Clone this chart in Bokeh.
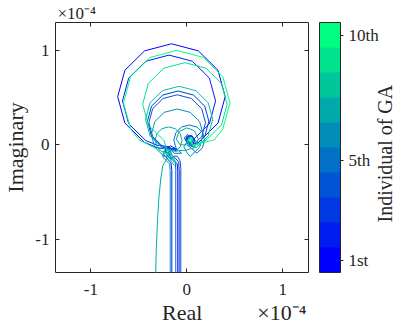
import math
from bokeh.plotting import figure
from bokeh.models import (ColorBar, LinearColorMapper, FixedTicker, LinearAxis,
                          Range1d)
from bokeh.embed import file_html
from bokeh.resources import INLINE

# Nyquist curves of the 10 GA individuals (values in units of 1e-4)
real_1 = [-0.094, -0.094, -0.10, -0.15, -0.21, -0.22, -0.17, -0.12, -0.16, -0.305, -0.44, -0.645, -0.72, -0.645, -0.44, -0.16, 0.12, 0.325, 0.40, 0.325, 0.12, 0.06, 0.08, 0.04, -0.01, 0.0, 0.03]
imag_1 = [-1.40, -0.28, -0.20, -0.15, -0.11, -0.05, -0.01, -0.04, -0.05, -0.031, 0.025, 0.23, 0.51, 0.79, 0.995, 1.07, 0.995, 0.79, 0.51, 0.23, 0.025, 0.0, 0.05, 0.10, 0.07, 0.02, 0.01]

real_2 = [-0.156, -0.156, -0.165, -0.20, -0.24, -0.22, -0.17, -0.15, -0.185, -0.311, -0.4275, -0.605, -0.67, -0.605, -0.4275, -0.185, 0.0575, 0.235, 0.30, 0.235, 0.0575, 0.02, 0.05, 0.09, 0.06, 0.01, 0.0, 0.02]
imag_2 = [-1.40, -0.27, -0.19, -0.15, -0.10, -0.04, -0.03, -0.07, -0.02, -0.003, 0.045, 0.2225, 0.465, 0.7075, 0.885, 0.95, 0.885, 0.7075, 0.465, 0.2225, 0.045, 0.02, 0.0, 0.04, 0.09, 0.08, 0.03, 0.01]

real_3 = [-0.079, -0.079, -0.085, -0.12, -0.17, -0.19, -0.15, -0.11, -0.25, -0.367, -0.41, -0.367, -0.25, -0.09, 0.07, 0.187, 0.23, 0.187, 0.07, 0.03, 0.07, 0.05, 0.0, -0.01, 0.02]
imag_3 = [-1.40, -0.26, -0.18, -0.14, -0.13, -0.08, -0.04, -0.06, -0.027, 0.09, 0.25, 0.41, 0.527, 0.57, 0.527, 0.41, 0.25, 0.09, -0.027, 0.02, 0.05, 0.10, 0.09, 0.04, 0.02]

real_4 = [-0.0625, -0.0625, -0.07, -0.10, -0.15, -0.17, -0.13, -0.10, -0.2475, -0.3555, -0.395, -0.3555, -0.2475, -0.10, 0.0475, 0.1555, 0.195, 0.1555, 0.0475, 0.01, 0.04, 0.01, -0.03, 0.0]
imag_4 = [-1.40, -0.25, -0.17, -0.12, -0.12, -0.07, -0.03, -0.05, -0.02, 0.0875, 0.235, 0.3825, 0.4905, 0.53, 0.4905, 0.3825, 0.235, 0.0875, -0.02, 0.03, 0.07, 0.11, 0.07, 0.04]

real_5 = [-0.115, -0.115, -0.12, -0.15, -0.19, -0.20, -0.16, -0.13, -0.055, -0.1136, -0.135, -0.1136, -0.055, 0.025, 0.105, 0.1636, 0.185, 0.1636, 0.105, 0.04, 0.0, 0.03, 0.07, 0.05, 0.02]
imag_5 = [-1.40, -0.26, -0.19, -0.16, -0.13, -0.08, -0.06, -0.09, -0.0886, -0.03, 0.05, 0.13, 0.1886, 0.21, 0.1886, 0.13, 0.05, -0.03, -0.0886, -0.03, 0.02, 0.07, 0.05, 0.01, 0.02]

real_6 = [-0.173, -0.173, -0.18, -0.21, -0.25, -0.24, -0.19, -0.17, -0.235, -0.334, -0.37, -0.334, -0.235, -0.10, 0.035, 0.134, 0.17, 0.134, 0.035, 0.0, -0.03, 0.0, 0.04, 0.03, 0.0]
imag_6 = [-1.40, -0.27, -0.20, -0.17, -0.13, -0.07, -0.06, -0.11, -0.124, -0.025, 0.11, 0.245, 0.344, 0.38, 0.344, 0.245, 0.11, -0.025, -0.124, -0.08, -0.02, 0.03, 0.02, -0.02, 0.0]

real_7 = [-0.325, -0.318, -0.305, -0.29, -0.27, -0.25, -0.22, -0.19, -0.26, -0.311, -0.33, -0.311, -0.26, -0.19, -0.12, -0.069, -0.05, -0.069, -0.12, -0.08, -0.02, 0.08, 0.12, 0.08, 0.0, -0.08, -0.11, -0.07, 0.0]
imag_7 = [-1.40, -1.10, -0.80, -0.55, -0.35, -0.22, -0.17, -0.09, -0.071, -0.02, 0.05, 0.12, 0.171, 0.19, 0.171, 0.12, 0.05, -0.02, -0.071, -0.06, -0.06, -0.03, 0.06, 0.15, 0.18, 0.14, 0.06, 0.0, 0.0]

real_8 = [-0.13, -0.17, -0.21, -0.18, -0.13, -0.255, -0.383, -0.43, -0.383, -0.255, -0.08, 0.095, 0.223, 0.27, 0.223, 0.095, 0.05, 0.07, 0.03, 0.0, 0.02]
imag_8 = [-0.22, -0.16, -0.10, -0.05, -0.07, -0.033, 0.095, 0.27, 0.445, 0.573, 0.62, 0.573, 0.445, 0.27, 0.095, -0.033, 0.0, 0.05, 0.08, 0.04, 0.01]

real_9 = [-0.10, -0.15, -0.20, -0.24, -0.401, -0.46, -0.401, -0.24, -0.02, 0.20, 0.361, 0.42, 0.361, 0.20, 0.08, 0.04, 0.06, 0.02, 0.02]
imag_9 = [-0.20, -0.12, -0.06, 0.049, 0.21, 0.43, 0.65, 0.811, 0.87, 0.811, 0.65, 0.43, 0.21, 0.049, -0.01, 0.02, 0.06, 0.07, 0.03]

real_10 = [-0.12, -0.20, -0.30, -0.497, -0.585, -0.66, -0.585, -0.3825, -0.105, 0.1725, 0.375, 0.45, 0.375, 0.287, 0.07, 0.04, 0.06, 0.02, 0.03]
imag_10 = [-0.18, -0.10, -0.05, 0.053, 0.1675, 0.445, 0.7225, 0.925, 1.0, 0.925, 0.7225, 0.445, 0.1675, 0.053, 0.0, 0.03, 0.07, 0.06, 0.03]

reals = [real_1, real_2, real_3, real_4, real_5, real_6, real_7, real_8, real_9, real_10]
imags = [imag_1, imag_2, imag_3, imag_4, imag_5, imag_6, imag_7, imag_8, imag_9, imag_10]

# winter colormap, 10 levels (1st -> 10th individual)
colors = ["#0000FF", "#001CF1", "#0039E3", "#0055D5", "#0071C6",
          "#008EB8", "#00AAAA", "#00C69C", "#00E38E", "#00FF80"]

x_ticks = [-1, 0, 1]
y_ticks = [-1, 0, 1]
cbar_ticks = [1, 5, 10]
cbar_labels = ["1st", "5th", "10th"]
exponent_label = "×10⁻⁴"
cbar_title = "Individual of GA"

FONT = "Liberation Serif"
INK = "#262626"
NB = "\u00a0"

x_lo, x_hi = -1.368, 1.268
y_lo, y_hi = -1.351, 1.295

p = figure(frame_width=253, frame_height=250, output_backend="svg",
           toolbar_location=None,
           x_range=Range1d(x_lo, x_hi), y_range=Range1d(y_lo, y_hi),
           min_border=0)

for xs, ys, c in zip(reals, imags, colors):
    p.line(xs, ys, line_color=c, line_width=1)

p.xgrid.visible = False
p.ygrid.visible = False
p.outline_line_color = INK
p.outline_line_width = 1
p.background_fill_color = "white"

def has_prop(obj, name):
    return name in type(obj).properties()

def style_axis(ax, ticks, show_labels=True):
    ax.ticker = FixedTicker(ticks=ticks)
    ax.axis_line_color = None
    ax.major_tick_in = 4
    ax.major_tick_out = 0
    ax.major_tick_line_color = INK
    ax.minor_tick_line_color = None
    ax.major_label_text_font = FONT
    ax.major_label_text_color = INK
    ax.axis_label_text_font = FONT
    ax.axis_label_text_font_style = "normal"
    ax.axis_label_text_color = INK
    if show_labels:
        ax.major_label_text_font_size = "17px"
        ax.axis_label_text_font_size = "22px"
    else:
        ax.major_label_text_color = None
        ax.major_label_text_font_size = "1px"
        ax.major_label_standoff = 0

style_axis(p.xaxis[0], x_ticks)
style_axis(p.yaxis[0], y_ticks)
# "Real" centred under the frame, with the exponent at the right end of the same row
p.xaxis[0].axis_label = NB * 19 + "Real" + NB * 10 + exponent_label
p.yaxis[0].axis_label = "Imaginary"
p.xaxis[0].major_label_standoff = 11
p.xaxis[0].axis_label_standoff = 2
p.yaxis[0].major_label_standoff = 6
p.yaxis[0].axis_label_standoff = 4
p.xaxis[0].major_label_overrides = {-1: "-1", 0: "0", 1: "1"}
p.yaxis[0].major_label_overrides = {-1: "-1", 0: "0", 1: "1"}

# top box edge with the exponent label at its left end
top_ax = LinearAxis()
style_axis(top_ax, x_ticks, show_labels=False)
top_ax.axis_label_text_font_size = "17px"
top_ax.axis_label_standoff = 0
if has_prop(top_ax, "axis_label_align"):
    top_ax.axis_label = NB * 10 + exponent_label
    top_ax.axis_label_align = "start"
else:
    top_ax.axis_label = exponent_label + NB * 50
p.add_layout(top_ax, "above")

# right box edge (ticks only); a blank label keeps a gap before the colour bar
right_ax = LinearAxis()
style_axis(right_ax, y_ticks, show_labels=False)
right_ax.axis_label = NB
right_ax.axis_label_text_font_size = "6px"
right_ax.axis_label_standoff = 2
p.add_layout(right_ax, "right")

mapper = LinearColorMapper(palette=colors, low=0.5, high=10.5)
cb = ColorBar(color_mapper=mapper, ticker=FixedTicker(ticks=cbar_ticks),
              major_label_overrides={t: s for t, s in zip(cbar_ticks, cbar_labels)},
              width=21, height=250, padding=0, margin=0,
              label_standoff=5,
              bar_line_color=INK, bar_line_width=1,
              major_tick_in=0, major_tick_out=3, major_tick_line_color=INK,
              minor_tick_line_color=None,
              major_label_text_font=FONT, major_label_text_font_size="17px",
              major_label_text_color=INK,
              background_fill_color=None, border_line_color=None)
p.add_layout(cb, "right")

# axis used only to carry the colour bar's label (reading bottom to top)
cb_ax = LinearAxis()
cb_ax.ticker = FixedTicker(ticks=[])
cb_ax.axis_line_color = None
cb_ax.major_tick_line_color = None
cb_ax.minor_tick_line_color = None
cb_ax.major_label_text_color = None
cb_ax.major_label_text_font_size = "1px"
cb_ax.major_label_standoff = 0
cb_ax.axis_label_standoff = 3
cb_ax.axis_label_text_font = FONT
cb_ax.axis_label_text_font_style = "normal"
cb_ax.axis_label_text_font_size = "20px"
cb_ax.axis_label_text_color = INK
cb_ax.axis_label = cbar_title
if has_prop(cb_ax, "axis_label_orientation"):
    try:
        cb_ax.axis_label_orientation = math.pi / 2
        if has_prop(cb_ax, "axis_label_align"):
            cb_ax.axis_label_align = "start"
            cb_ax.axis_label = NB * 10 + cbar_title
    except Exception:
        pass
p.add_layout(cb_ax, "right")

open("out.html", "w").write(file_html(p, INLINE))
